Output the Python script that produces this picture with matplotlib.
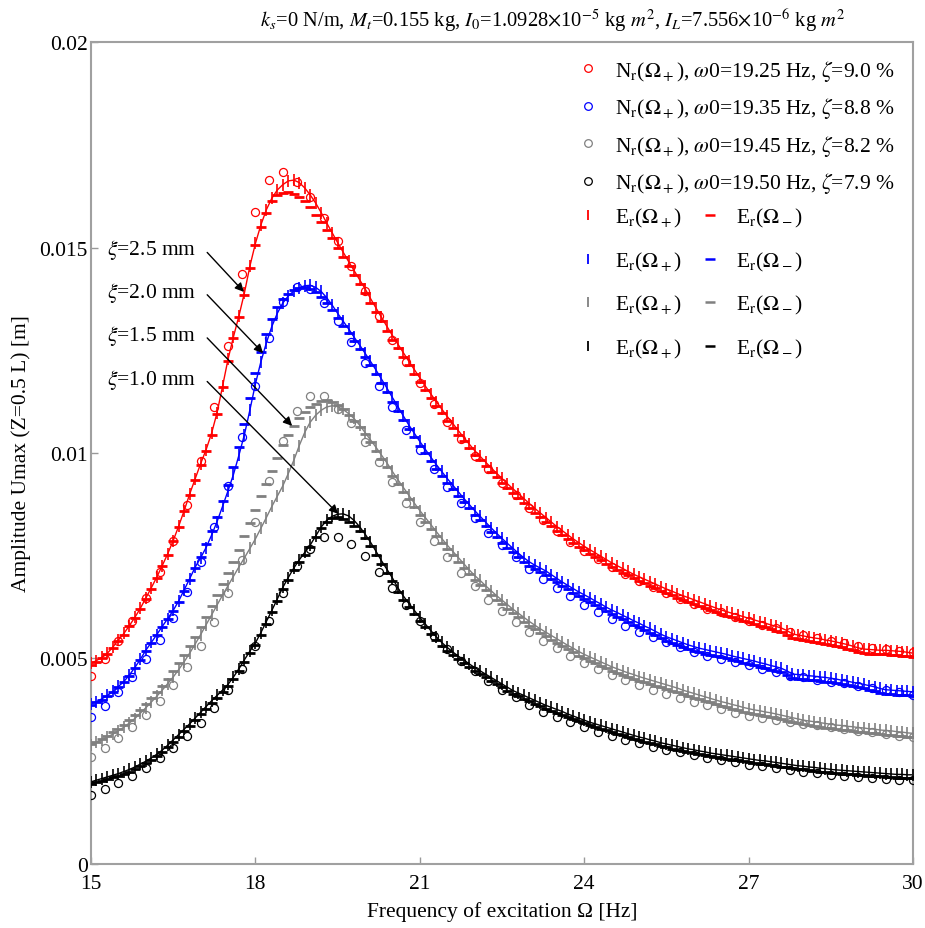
import numpy as np
import matplotlib
matplotlib.use('Agg')
import matplotlib.pyplot as plt
from matplotlib.lines import Line2D

plt.rcParams['font.family'] = ['Liberation Serif', 'DejaVu Serif']
plt.rcParams['mathtext.fontset'] = 'stix'

# ---------------- data (amplitudes in 1e-3 m) ----------------
freq_er = np.round(np.arange(15.0, 30.0001, 0.1), 2)    # experimental grid
freq_nr = np.round(np.arange(15.0, 30.0001, 0.25), 2)   # numerical grid

# numerical results N_r(Omega+)
nr_red = [4.58, 4.99, 5.42, 5.91, 6.46, 7.11, 7.87, 8.73, 9.80, 11.11, 12.61, 14.36, 15.86, 16.65, 16.83, 16.60,
          16.23, 15.71, 15.16, 14.54, 13.95, 13.34, 12.76, 12.22, 11.70, 11.19, 10.75, 10.34, 9.93, 9.60, 9.28, 8.97,
          8.67, 8.38, 8.11, 7.84, 7.62, 7.42, 7.23, 7.06, 6.89, 6.73, 6.59, 6.45, 6.33, 6.21, 6.12, 6.00,
          5.92, 5.82, 5.73, 5.65, 5.57, 5.49, 5.43, 5.37, 5.30, 5.25, 5.23, 5.19, 5.15]
nr_blue = [3.57, 3.85, 4.18, 4.56, 4.99, 5.45, 5.99, 6.63, 7.36, 8.21, 9.20, 10.38, 11.64, 12.81, 13.67, 14.03,
           13.98, 13.65, 13.20, 12.71, 12.19, 11.64, 11.11, 10.57, 10.08, 9.61, 9.18, 8.78, 8.41, 8.05, 7.75, 7.46,
           7.18, 6.93, 6.71, 6.51, 6.31, 6.12, 5.96, 5.80, 5.65, 5.52, 5.39, 5.27, 5.17, 5.07, 4.98, 4.91,
           4.83, 4.74, 4.66, 4.58, 4.54, 4.48, 4.44, 4.40, 4.34, 4.27, 4.24, 4.18, 4.10]
nr_gray = [2.60, 2.82, 3.06, 3.33, 3.63, 3.97, 4.36, 4.80, 5.30, 5.90, 6.59, 7.40, 8.31, 9.33, 10.30, 11.01,
           11.39, 11.39, 11.07, 10.72, 10.27, 9.77, 9.29, 8.78, 8.31, 7.87, 7.46, 7.08, 6.76, 6.43, 6.15, 5.90,
           5.65, 5.43, 5.25, 5.07, 4.89, 4.74, 4.61, 4.48, 4.36, 4.24, 4.14, 4.04, 3.95, 3.87, 3.76, 3.67,
           3.61, 3.55, 3.51, 3.46, 3.41, 3.37, 3.33, 3.28, 3.24, 3.20, 3.16, 3.11, 3.08]
nr_black = [1.69, 1.82, 1.97, 2.15, 2.34, 2.57, 2.82, 3.11, 3.43, 3.80, 4.24, 4.74, 5.30, 5.92, 6.59, 7.24,
            7.66, 7.96, 7.96, 7.79, 7.49, 7.11, 6.71, 6.31, 5.92, 5.55, 5.23, 4.95, 4.69, 4.46, 4.24, 4.06,
            3.88, 3.71, 3.57, 3.45, 3.33, 3.22, 3.12, 3.02, 2.94, 2.85, 2.78, 2.72, 2.65, 2.59, 2.54, 2.47,
            2.41, 2.38, 2.34, 2.29, 2.25, 2.21, 2.17, 2.15, 2.12, 2.10, 2.08, 2.05, 2.04]

# experimental results E_r(Omega+) (upward sweep) and E_r(Omega-) (downward sweep)
er_plus_red = [4.88, 4.95, 5.03, 5.13, 5.28, 5.45, 5.61, 5.80, 6.00, 6.22,
               6.47, 6.72, 6.98, 7.26, 7.55, 7.87, 8.22, 8.60, 9.00, 9.37,
               9.74, 10.08, 10.48, 10.98, 11.62, 12.28, 12.83, 13.34, 13.90, 14.55,
               15.10, 15.55, 15.92, 16.20, 16.40, 16.53, 16.62, 16.64, 16.58, 16.45,
               16.28, 16.08, 15.85, 15.60, 15.36, 15.12, 14.89, 14.66, 14.44, 14.22,
               14.00, 13.76, 13.53, 13.30, 13.08, 12.86, 12.65, 12.44, 12.23, 12.03,
               11.83, 11.63, 11.44, 11.25, 11.07, 10.89, 10.72, 10.55, 10.38, 10.22,
               10.06, 9.92, 9.78, 9.64, 9.51, 9.38, 9.25, 9.13, 9.01, 8.89,
               8.77, 8.65, 8.54, 8.43, 8.32, 8.21, 8.11, 8.01, 7.91, 7.82,
               7.73, 7.65, 7.57, 7.49, 7.41, 7.33, 7.26, 7.19, 7.12, 7.05,
               6.99, 6.93, 6.87, 6.81, 6.75, 6.69, 6.64, 6.58, 6.53, 6.48,
               6.43, 6.38, 6.33, 6.28, 6.23, 6.18, 6.14, 6.10, 6.06, 6.02,
               5.98, 5.94, 5.90, 5.86, 5.82, 5.78, 5.74, 5.68, 5.60, 5.57,
               5.55, 5.52, 5.50, 5.48, 5.45, 5.43, 5.40, 5.37, 5.34, 5.30,
               5.26, 5.23, 5.22, 5.21, 5.20, 5.20, 5.19, 5.18, 5.17, 5.15,
               5.13]
er_minus_red = [4.85, 4.92, 5.00, 5.10, 5.25, 5.42, 5.58, 5.78, 5.98, 6.20,
                6.45, 6.70, 6.96, 7.24, 7.53, 7.85, 8.20, 8.58, 8.98, 9.35,
                9.72, 10.05, 10.45, 10.95, 11.60, 12.25, 12.80, 13.30, 13.85, 14.50,
                15.05, 15.50, 15.85, 16.12, 16.27, 16.33, 16.34, 16.30, 16.22, 16.12,
                15.98, 15.80, 15.62, 15.42, 15.22, 15.00, 14.78, 14.56, 14.34, 14.12,
                13.90, 13.66, 13.43, 13.20, 12.98, 12.76, 12.55, 12.34, 12.13, 11.93,
                11.73, 11.53, 11.34, 11.15, 10.97, 10.79, 10.62, 10.45, 10.28, 10.12,
                9.96, 9.82, 9.68, 9.54, 9.41, 9.28, 9.15, 9.03, 8.91, 8.79,
                8.67, 8.55, 8.44, 8.33, 8.22, 8.11, 8.01, 7.91, 7.81, 7.72,
                7.63, 7.55, 7.47, 7.39, 7.31, 7.23, 7.16, 7.09, 7.02, 6.95,
                6.89, 6.83, 6.77, 6.71, 6.65, 6.59, 6.54, 6.48, 6.43, 6.38,
                6.33, 6.28, 6.23, 6.18, 6.13, 6.08, 6.04, 6.00, 5.96, 5.92,
                5.88, 5.84, 5.80, 5.76, 5.72, 5.68, 5.64, 5.58, 5.50, 5.47,
                5.45, 5.42, 5.40, 5.38, 5.35, 5.33, 5.30, 5.27, 5.24, 5.20,
                5.16, 5.13, 5.12, 5.11, 5.10, 5.10, 5.09, 5.08, 5.07, 5.05,
                5.03]
er_plus_blue = [3.90, 3.95, 4.02, 4.10, 4.20, 4.32, 4.44, 4.60, 4.78, 4.98,
                5.20, 5.39, 5.58, 5.78, 5.97, 6.17, 6.40, 6.67, 6.94, 7.22,
                7.45, 7.70, 8.00, 8.33, 8.70, 9.08, 9.48, 9.95, 10.45, 11.05,
                11.68, 12.22, 12.68, 13.08, 13.40, 13.65, 13.82, 13.94, 14.02, 14.07,
                14.08, 14.03, 13.93, 13.78, 13.60, 13.40, 13.21, 13.02, 12.82, 12.63,
                12.43, 12.23, 12.02, 11.80, 11.58, 11.35, 11.13, 10.90, 10.68, 10.48,
                10.28, 10.09, 9.90, 9.72, 9.55, 9.38, 9.22, 9.06, 8.90, 8.75,
                8.60, 8.46, 8.32, 8.18, 8.05, 7.92, 7.80, 7.68, 7.56, 7.45,
                7.35, 7.27, 7.20, 7.13, 7.04, 6.95, 6.86, 6.78, 6.70, 6.62,
                6.55, 6.48, 6.40, 6.33, 6.25, 6.18, 6.12, 6.05, 5.99, 5.92,
                5.86, 5.79, 5.73, 5.66, 5.59, 5.53, 5.48, 5.43, 5.38, 5.33,
                5.29, 5.25, 5.22, 5.19, 5.16, 5.13, 5.10, 5.06, 5.03, 5.00,
                4.97, 4.94, 4.90, 4.87, 4.83, 4.80, 4.76, 4.70, 4.62, 4.61,
                4.60, 4.58, 4.57, 4.55, 4.54, 4.52, 4.50, 4.47, 4.45, 4.42,
                4.40, 4.37, 4.34, 4.31, 4.27, 4.24, 4.23, 4.22, 4.21, 4.20,
                4.19]
er_minus_blue = [3.88, 3.93, 4.00, 4.08, 4.18, 4.30, 4.42, 4.58, 4.76, 4.96,
                 5.18, 5.37, 5.56, 5.76, 5.95, 6.15, 6.38, 6.65, 6.92, 7.20,
                 7.48, 7.78, 8.10, 8.45, 8.82, 9.22, 9.65, 10.15, 10.70, 11.35,
                 11.95, 12.45, 12.90, 13.25, 13.55, 13.75, 13.88, 13.96, 14.01, 14.03,
                 14.00, 13.92, 13.80, 13.64, 13.47, 13.28, 13.10, 12.92, 12.72, 12.53,
                 12.33, 12.13, 11.92, 11.70, 11.48, 11.25, 11.03, 10.80, 10.58, 10.38,
                 10.18, 9.99, 9.80, 9.62, 9.45, 9.28, 9.12, 8.96, 8.80, 8.65,
                 8.50, 8.36, 8.22, 8.08, 7.95, 7.82, 7.70, 7.58, 7.46, 7.35,
                 7.25, 7.17, 7.10, 7.03, 6.94, 6.85, 6.76, 6.68, 6.60, 6.52,
                 6.45, 6.38, 6.30, 6.23, 6.15, 6.08, 6.02, 5.95, 5.89, 5.82,
                 5.76, 5.69, 5.63, 5.56, 5.49, 5.43, 5.38, 5.33, 5.28, 5.23,
                 5.19, 5.15, 5.12, 5.09, 5.06, 5.03, 5.00, 4.96, 4.93, 4.90,
                 4.87, 4.84, 4.80, 4.77, 4.73, 4.70, 4.66, 4.60, 4.52, 4.51,
                 4.50, 4.48, 4.47, 4.45, 4.44, 4.42, 4.40, 4.37, 4.35, 4.32,
                 4.30, 4.27, 4.24, 4.21, 4.17, 4.14, 4.13, 4.12, 4.11, 4.10,
                 4.09]
er_plus_gray = [2.90, 2.96, 3.02, 3.09, 3.16, 3.24, 3.33, 3.43, 3.54, 3.67,
                3.80, 3.94, 4.08, 4.23, 4.39, 4.55, 4.73, 4.92, 5.13, 5.35,
                5.58, 5.82, 6.06, 6.30, 6.54, 6.77, 7.00, 7.23, 7.45, 7.68,
                7.91, 8.17, 8.43, 8.70, 8.95, 9.20, 9.50, 9.82, 10.18, 10.50,
                10.75, 10.92, 11.04, 11.12, 11.15, 11.13, 11.06, 10.96, 10.84, 10.68,
                10.50, 10.32, 10.14, 9.95, 9.76, 9.55, 9.35, 9.16, 8.97, 8.78,
                8.60, 8.43, 8.26, 8.09, 7.92, 7.76, 7.61, 7.46, 7.31, 7.16,
                7.02, 6.90, 6.77, 6.65, 6.53, 6.42, 6.31, 6.20, 6.10, 6.00,
                5.90, 5.81, 5.72, 5.64, 5.56, 5.48, 5.40, 5.32, 5.25, 5.17,
                5.10, 5.04, 4.98, 4.92, 4.86, 4.80, 4.75, 4.70, 4.65, 4.61,
                4.56, 4.52, 4.48, 4.44, 4.40, 4.36, 4.32, 4.28, 4.23, 4.19,
                4.15, 4.11, 4.07, 4.03, 3.99, 3.95, 3.92, 3.88, 3.85, 3.81,
                3.78, 3.75, 3.73, 3.70, 3.68, 3.65, 3.62, 3.59, 3.56, 3.53,
                3.50, 3.48, 3.46, 3.44, 3.42, 3.40, 3.38, 3.37, 3.35, 3.34,
                3.32, 3.31, 3.29, 3.28, 3.26, 3.25, 3.24, 3.22, 3.21, 3.19,
                3.18]
er_minus_gray = [2.92, 2.98, 3.05, 3.12, 3.20, 3.29, 3.39, 3.50, 3.62, 3.75,
                 3.89, 4.03, 4.18, 4.34, 4.51, 4.69, 4.88, 5.08, 5.30, 5.53,
                 5.77, 6.02, 6.28, 6.55, 6.82, 7.08, 7.35, 7.65, 7.98, 8.30,
                 8.62, 8.95, 9.25, 9.55, 9.88, 10.20, 10.45, 10.65, 10.85, 11.00,
                 11.12, 11.20, 11.26, 11.28, 11.25, 11.17, 11.06, 10.93, 10.79, 10.63,
                 10.46, 10.26, 10.06, 9.86, 9.65, 9.45, 9.25, 9.06, 8.87, 8.68,
                 8.50, 8.33, 8.16, 7.99, 7.82, 7.66, 7.51, 7.36, 7.21, 7.06,
                 6.92, 6.80, 6.67, 6.55, 6.43, 6.32, 6.21, 6.10, 6.00, 5.90,
                 5.80, 5.71, 5.62, 5.54, 5.46, 5.38, 5.30, 5.22, 5.15, 5.07,
                 5.00, 4.94, 4.88, 4.82, 4.76, 4.70, 4.65, 4.60, 4.55, 4.51,
                 4.46, 4.42, 4.38, 4.34, 4.30, 4.26, 4.22, 4.18, 4.13, 4.09,
                 4.05, 4.01, 3.97, 3.93, 3.89, 3.85, 3.82, 3.78, 3.75, 3.71,
                 3.68, 3.65, 3.63, 3.60, 3.58, 3.55, 3.52, 3.49, 3.46, 3.43,
                 3.40, 3.38, 3.36, 3.34, 3.32, 3.30, 3.28, 3.27, 3.25, 3.24,
                 3.22, 3.21, 3.19, 3.18, 3.16, 3.15, 3.14, 3.12, 3.11, 3.09,
                 3.08]
er_plus_black = [2.00, 2.04, 2.08, 2.12, 2.16, 2.20, 2.25, 2.30, 2.36, 2.43,
                 2.50, 2.58, 2.67, 2.77, 2.89, 3.02, 3.15, 3.28, 3.41, 3.55,
                 3.69, 3.83, 3.97, 4.10, 4.23, 4.37, 4.55, 4.75, 4.97, 5.18,
                 5.38, 5.63, 5.90, 6.17, 6.45, 6.73, 6.97, 7.20, 7.40, 7.58,
                 7.76, 7.98, 8.20, 8.36, 8.46, 8.51, 8.52, 8.47, 8.36, 8.21,
                 8.03, 7.83, 7.61, 7.38, 7.17, 6.96, 6.72, 6.52, 6.34, 6.17,
                 6.00, 5.84, 5.68, 5.53, 5.39, 5.27, 5.16, 5.06, 4.97, 4.87,
                 4.78, 4.70, 4.62, 4.54, 4.46, 4.38, 4.30, 4.22, 4.16, 4.10,
                 4.04, 3.98, 3.92, 3.86, 3.81, 3.76, 3.71, 3.65, 3.60, 3.55,
                 3.50, 3.45, 3.41, 3.37, 3.33, 3.29, 3.25, 3.21, 3.17, 3.13,
                 3.09, 3.06, 3.02, 2.99, 2.95, 2.92, 2.89, 2.86, 2.83, 2.80,
                 2.78, 2.75, 2.73, 2.70, 2.68, 2.66, 2.64, 2.62, 2.60, 2.58,
                 2.56, 2.54, 2.52, 2.51, 2.49, 2.47, 2.45, 2.43, 2.41, 2.39,
                 2.38, 2.36, 2.35, 2.33, 2.32, 2.30, 2.29, 2.28, 2.27, 2.26,
                 2.25, 2.24, 2.23, 2.22, 2.21, 2.20, 2.19, 2.18, 2.18, 2.17,
                 2.17]
er_minus_black = [1.95, 1.99, 2.03, 2.07, 2.11, 2.15, 2.20, 2.25, 2.31, 2.38,
                  2.45, 2.53, 2.62, 2.72, 2.84, 2.97, 3.10, 3.23, 3.36, 3.50,
                  3.64, 3.78, 3.92, 4.05, 4.18, 4.32, 4.50, 4.70, 4.92, 5.13,
                  5.33, 5.58, 5.85, 6.12, 6.40, 6.68, 6.92, 7.15, 7.35, 7.53,
                  7.72, 7.95, 8.18, 8.33, 8.42, 8.44, 8.39, 8.32, 8.23, 8.10,
                  7.94, 7.74, 7.52, 7.29, 7.08, 6.88, 6.63, 6.43, 6.25, 6.09,
                  5.92, 5.76, 5.60, 5.45, 5.31, 5.19, 5.08, 4.98, 4.89, 4.79,
                  4.70, 4.62, 4.54, 4.46, 4.38, 4.30, 4.22, 4.14, 4.08, 4.02,
                  3.96, 3.90, 3.84, 3.78, 3.73, 3.68, 3.63, 3.57, 3.52, 3.47,
                  3.42, 3.37, 3.33, 3.29, 3.25, 3.21, 3.17, 3.13, 3.09, 3.05,
                  3.01, 2.98, 2.94, 2.91, 2.87, 2.84, 2.81, 2.78, 2.75, 2.72,
                  2.70, 2.67, 2.65, 2.62, 2.60, 2.58, 2.56, 2.54, 2.52, 2.50,
                  2.48, 2.46, 2.44, 2.43, 2.41, 2.39, 2.37, 2.35, 2.33, 2.31,
                  2.30, 2.28, 2.27, 2.25, 2.24, 2.22, 2.21, 2.20, 2.19, 2.18,
                  2.17, 2.16, 2.15, 2.14, 2.13, 2.12, 2.11, 2.10, 2.10, 2.09,
                  2.09]

colors = ['#ff0000', '#0000ff', '#808080', '#000000']
omega0 = ['19.25', '19.35', '19.45', '19.50']
zeta = ['9.0', '8.8', '8.2', '7.9']
xi_labels = ['2.5', '2.0', '1.5', '1.0']
# annotation text anchor, arrow tail, arrow head (data coordinates)
xi_text_pos = [(15.29, 0.01496), (15.29, 0.01392), (15.29, 0.01286), (15.29, 0.01180)]
xi_arrow_tail = [(17.12, 0.01488), (17.12, 0.01385), (17.12, 0.01280), (17.12, 0.01174)]
xi_arrow_head = [(17.79, 0.01392), (18.14, 0.01243), (18.67, 0.01066), (19.51, 0.00852)]

xticks = [15, 18, 21, 24, 27, 30]
yticks = [0, 0.005, 0.01, 0.015, 0.02]
ytick_labels = ['0', '0.005', '0.01', '0.015', '0.02']

title = (r'$k_s$=0 N/m, $M_t$=0.155 kg, $I_0$=1.0928$\times$10$^{-5}$ kg $m^2$, '
         r'$I_L$=7.556$\times$10$^{-6}$ kg $m^2$')

# ---------------- figure ----------------
FS = 15.5
fig = plt.figure(figsize=(9.25, 9.29), dpi=100)
ax = fig.add_axes([0.0984, 0.0689, 0.8886, 0.8848])

nr_all = [nr_red, nr_blue, nr_gray, nr_black]
ep_all = [er_plus_red, er_plus_blue, er_plus_gray, er_plus_black]
em_all = [er_minus_red, er_minus_blue, er_minus_gray, er_minus_black]

for c, nr, ep, em in zip(colors, nr_all, ep_all, em_all):
    ep = np.array(ep) * 1e-3
    em = np.array(em) * 1e-3
    nr = np.array(nr) * 1e-3
    ax.plot(freq_er, ep, color=c, lw=1.0, zorder=2)
    ax.plot(freq_er, ep, ls='none', marker='|', ms=8, mew=1.2, color=c, zorder=3)
    ax.plot(freq_er, em, ls='none', marker='_', ms=7.5, mew=2.0, color=c, zorder=3)
    ax.plot(freq_nr, nr, ls='none', marker='o', ms=5.8, mfc='none', mew=0.9, color=c, zorder=4)

for lab, tp, tail, head in zip(xi_labels, xi_text_pos, xi_arrow_tail, xi_arrow_head):
    ax.text(tp[0], tp[1], r'$\xi$=' + lab + ' mm', fontsize=FS, ha='left', va='center')
    ax.annotate('', xy=head, xytext=tail,
                arrowprops=dict(arrowstyle='-|>', color='black', lw=1.0,
                                mutation_scale=13, shrinkA=0, shrinkB=0))

ax.set_xlim(15, 30)
ax.set_ylim(0, 0.02)
ax.set_xticks(xticks)
ax.set_xticklabels([str(t) for t in xticks])
ax.set_yticks(yticks)
ax.set_yticklabels(ytick_labels)
ax.tick_params(direction='in', length=5, width=1.0, color='#999999', labelsize=FS,
               top=False, right=False)
ax.tick_params(axis='x', pad=7)
ax.tick_params(axis='y', pad=2.5)
for s in ax.spines.values():
    s.set_color('#a0a0a0')
    s.set_linewidth(1.5)

ax.set_xlabel('Frequency of excitation Ω [Hz]', fontsize=FS, labelpad=6)
ax.set_ylabel('Amplitude Umax (Z=0.5 L) [m]', fontsize=FS, labelpad=6)
fig.text(0.598, 0.978, title, fontsize=14.8, ha='center', va='center')

# legends
h1 = [Line2D([], [], ls='none', marker='o', ms=5.5, mfc='none', mew=0.9, color=c) for c in colors]
l1 = [r'N$_\mathrm{r}$($\Omega_+$), $\omega$0=' + w + r' Hz, $\zeta$=' + z + ' %'
      for w, z in zip(omega0, zeta)]
leg1 = ax.legend(h1, l1, loc='upper left', bbox_to_anchor=(0.5915, 0.981), frameon=False,
                 fontsize=FS, handlelength=1.0, handletextpad=0.74, labelspacing=0.58,
                 borderpad=0, borderaxespad=0)
ax.add_artist(leg1)

h2 = ([Line2D([], [], ls='none', marker='|', ms=6.5, mew=1.3, color=c) for c in colors] +
      [Line2D([], [], ls='none', marker='_', ms=6.5, mew=1.8, color=c) for c in colors])
l2 = [r'E$_\mathrm{r}$($\Omega_+$)'] * 4 + [r'E$_\mathrm{r}$($\Omega_-$)'] * 4
leg2 = ax.legend(h2, l2, loc='upper left', bbox_to_anchor=(0.5915, 0.800), frameon=False,
                 fontsize=FS, ncol=2, handlelength=1.0, handletextpad=0.74, labelspacing=0.95,
                 columnspacing=0.8, borderpad=0, borderaxespad=0)

fig.savefig('out.png', dpi=100)
